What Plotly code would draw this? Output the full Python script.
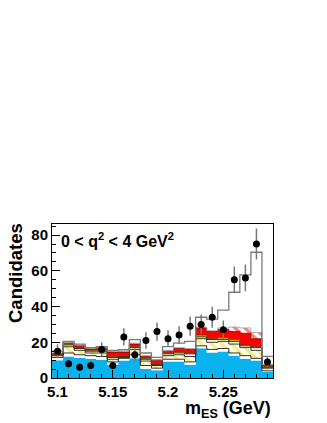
import plotly.graph_objects as go

# m_ES bins (GeV), 20 bins of 0.01
bin_centers = [round(5.10 + 0.01 * i, 2) for i in range(20)]
bin_edges = [round(5.095 + 0.01 * i, 3) for i in range(21)]

# data candidates per bin
data_counts = [15, 8, 6, 7, 16, 7, 23, 13, 21, 26, 22, 24, 29, 30, 34, 27, 55, 56, 75, 9]

# cumulative tops of the stacked components
cyan_top = [10, 12, 11.2, 10.8, 10.2, 7.4, 9.8, 11, 5.2, 4.3, 9.3, 9.3, 7.4, 16.7, 14.3, 14.9, 12.5, 10.8, 9.8, 3.3]
white1_top = [11.5, 14, 13, 12.5, 12, 9, 11, 13, 7, 5.5, 10.5, 10.5, 9, 18, 16, 16.5, 14, 12.5, 11, 4]
yhatch_top = [12.5, 17.5, 15.5, 14, 14, 10.5, 11.5, 16, 9.5, 7, 12.5, 13, 12, 22, 20, 20.5, 19, 17, 15.5, 5.5]
white2_top = [13, 18.5, 16.5, 15, 15, 11.5, 12, 17, 10.5, 7.5, 13.5, 14, 13.5, 23, 21.5, 21.5, 20.5, 18, 17, 6]
yellow_top = [13.3, 19, 17, 15.5, 15.5, 12, 12.5, 17.5, 11, 8, 14, 14.5, 14, 24, 22, 22.5, 21.5, 18.5, 17.5, 6.5]
red_top = [13.8, 19.5, 18, 16.2, 16.5, 14.5, 14.5, 19, 12, 10, 15, 16.5, 16, 28, 26, 27, 26, 25, 22, 7]
rhatch_top = [14, 20, 18.5, 16.7, 17, 15, 15, 19.5, 12.5, 10.3, 15.5, 17, 16.5, 28.5, 26.5, 28, 28.5, 28, 25.5, 7.5]
total_fit = [15, 20.5, 19, 17, 17.5, 15.5, 15.8, 21.5, 14, 11.5, 17.6, 19.5, 20.5, 34, 33, 38, 48, 57.7, 70.4, 12.1]

FONT = "Liberation Sans, Arial, sans-serif"


def step(vals):
    return vals + [vals[-1]]


fig = go.Figure()

layers = [
    (cyan_top, "#0bb3ee", None, "#0bb3ee", 0),
    (white1_top, "white", None, "black", 0.8),
    (yhatch_top, "white", dict(shape="\\", fgcolor="#f0dc00", bgcolor="white", size=7, solidity=0.5), "black", 0.8),
    (white2_top, "white", None, "black", 0.8),
    (yellow_top, "#e8cc00", None, "#6b3b00", 0.8),
    (red_top, "#ff0000", None, "#6b0000", 0.8),
    (rhatch_top, "white", dict(shape="\\", fgcolor="#ff0000", bgcolor="white", size=7, solidity=0.5), "#999999", 0.8),
]

for i, (top, fc, pat, lc, lw) in enumerate(layers):
    kw = dict(
        x=bin_edges, y=step(top), mode="lines", line_shape="hv",
        fill="tozeroy" if i == 0 else "tonexty", fillcolor=fc,
        line=dict(color=lc, width=lw), hoverinfo="skip", showlegend=False,
    )
    if pat:
        kw["fillpattern"] = pat
    fig.add_trace(go.Scatter(**kw))

# total fit (open histogram)
fig.add_trace(go.Scatter(
    x=bin_edges, y=step(total_fit), mode="lines", line_shape="hv",
    line=dict(color="#7a7a7a", width=1.3), hoverinfo="skip", showlegend=False,
))

# data points
fig.add_trace(go.Scatter(
    x=bin_centers, y=data_counts, mode="markers",
    marker=dict(color="black", size=7),
    error_y=dict(type="data", array=[c ** 0.5 for c in data_counts], color="#777777", thickness=1.5, width=0),
    showlegend=False,
))

fig.update_layout(
    width=327, height=423,
    margin=dict(l=52, r=54, t=224, b=45),
    paper_bgcolor="white", plot_bgcolor="white",
    font=dict(family=FONT, size=15, color="black"),
    xaxis=dict(
        range=[5.095, 5.295], tickvals=[5.1, 5.15, 5.2, 5.25], ticktext=["5.1", "5.15", "5.2", "5.25"],
        ticks="inside", ticklen=8, tickcolor="black", showgrid=False, zeroline=False,
        showline=True, linecolor="black", linewidth=1, mirror=True,
        minor=dict(ticks="inside", ticklen=4, dtick=0.01, tick0=5.1, tickcolor="black", showgrid=False),
        tickfont=dict(family=FONT, size=15, color="black", weight="bold"),
    ),
    yaxis=dict(
        range=[0, 86.2], tickvals=[0, 20, 40, 60, 80],
        ticks="inside", ticklen=8, tickcolor="black", showgrid=False, zeroline=False,
        showline=True, linecolor="black", linewidth=1, mirror=True,
        minor=dict(ticks="inside", ticklen=4, dtick=5, tick0=0, tickcolor="black", showgrid=False),
        tickfont=dict(family=FONT, size=15, color="black", weight="bold"),
    ),
    annotations=[
        dict(text="<b>Candidates</b>", xref="paper", yref="paper", x=(15 - 52) / 221, y=(378 - 273) / 154,
             textangle=-90, showarrow=False, xanchor="center", yanchor="middle",
             font=dict(family=FONT, size=18.5, color="black")),
        dict(text="<b>m<sub>ES</sub> (GeV)</b>", xref="paper", yref="paper", x=1.0, y=(378 - 409) / 154,
             showarrow=False, xanchor="right", yanchor="middle",
             font=dict(family=FONT, size=18, color="black")),
        dict(text="<b>0 &lt; q<sup>2</sup> &lt; 4 GeV<sup>2</sup></b>", xref="paper", yref="paper",
             x=(59 - 52) / 221, y=(378 - 240) / 154, showarrow=False, xanchor="left", yanchor="middle",
             font=dict(family=FONT, size=16, color="black")),
    ],
)

# remove the default page margin so the figure sits at the window origin
fig.write_html("out.html", config={"displayModeBar": False},
               post_script="document.body.style.margin='0';")
